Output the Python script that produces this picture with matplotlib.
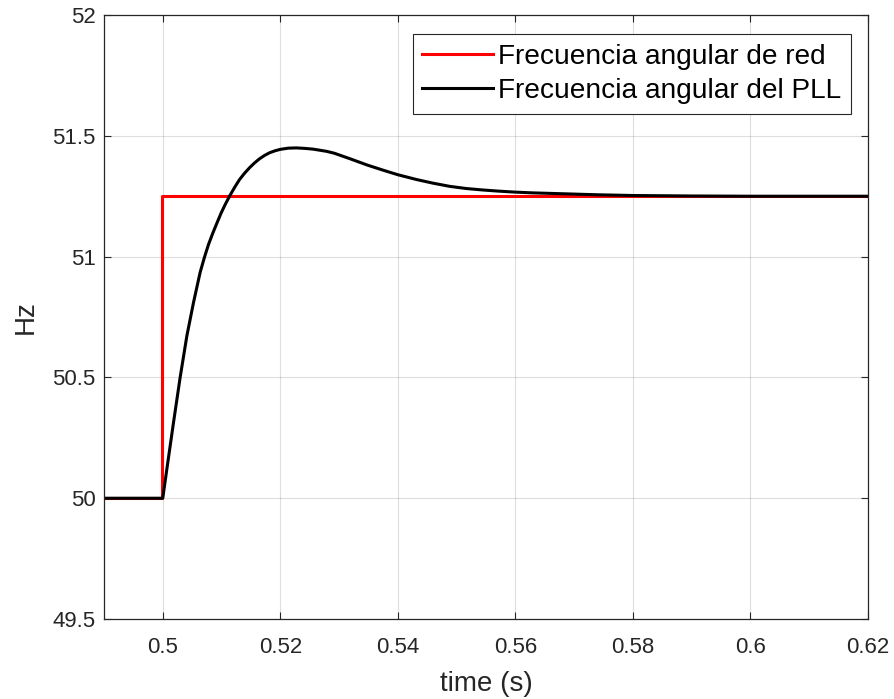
"""Frecuencia angular de red vs. PLL: respuesta a un escalón de 50 a 51.25 Hz."""

import matplotlib

matplotlib.use("Agg")
import matplotlib.pyplot as plt

# escalón de la red
t_red = [0.49, 0.4998, 0.62]
f_red = [50.0, 51.25, 51.25]

# respuesta del PLL
t_pll = [0.49, 0.5, 0.50068, 0.50182, 0.50295, 0.5041, 0.50523, 0.50636,
         0.5071, 0.50778, 0.50851, 0.50925, 0.50994, 0.51065, 0.51136,
         0.51221, 0.51306, 0.51391, 0.51477, 0.51562, 0.51647, 0.51733,
         0.51818, 0.51909, 0.52, 0.52136, 0.52273, 0.52415, 0.52556,
         0.52784, 0.52919, 0.53199, 0.5348, 0.5376, 0.54, 0.5432, 0.546,
         0.5488, 0.5516, 0.5544, 0.5572, 0.56, 0.5628, 0.5684, 0.574,
         0.58, 0.59, 0.60, 0.62]
f_pll = [50.0, 50.0, 50.118, 50.312, 50.499, 50.672, 50.81, 50.935,
         50.998, 51.05, 51.097, 51.141, 51.181, 51.217, 51.25,
         51.286, 51.319, 51.345, 51.368, 51.388, 51.405, 51.419,
         51.43, 51.438, 51.444, 51.449, 51.45, 51.448, 51.445,
         51.436, 51.428, 51.404, 51.379, 51.357, 51.339, 51.319, 51.304,
         51.291, 51.282, 51.276, 51.271, 51.267, 51.264, 51.26, 51.256,
         51.253, 51.251, 51.25, 51.25]

xticks = [0.5, 0.52, 0.54, 0.56, 0.58, 0.6, 0.62]
xticklabels = ["0.5", "0.52", "0.54", "0.56", "0.58", "0.6", "0.62"]
yticks = [49.5, 50, 50.5, 51, 51.5, 52]
yticklabels = ["49.5", "50", "50.5", "51", "51.5", "52"]

plt.rcParams["font.family"] = ["Liberation Sans", "DejaVu Sans"]
AX_COL = "#262626"

fig = plt.figure(figsize=(8.95, 6.99), dpi=100)
ax = fig.add_axes([0.1162, 0.1144, 0.8536, 0.8641])

ax.plot(t_red, f_red, color="#ff0000", lw=2.2, drawstyle="steps-post",
        label="Frecuencia angular de red")
ax.plot(t_pll, f_pll, color="black", lw=2.2, label="Frecuencia angular del PLL")

ax.set_xlim(0.49, 0.62)
ax.set_ylim(49.5, 52)
ax.set_xticks(xticks)
ax.set_xticklabels(xticklabels)
ax.set_yticks(yticks)
ax.set_yticklabels(yticklabels)

ax.grid(True, color="#000000", alpha=0.13, lw=0.8)
ax.set_axisbelow(True)
ax.tick_params(direction="in", length=5, width=0.8, colors=AX_COL,
               labelsize=16, top=True, right=True)
ax.tick_params(axis="x", pad=13)
ax.tick_params(axis="y", pad=6)
for s in ax.spines.values():
    s.set_color(AX_COL)
    s.set_linewidth(0.9)

ax.set_xlabel("time (s)", fontsize=20, color=AX_COL, labelpad=9)
ax.set_ylabel("Hz", fontsize=20, color=AX_COL, labelpad=10)

leg = ax.legend(loc="upper right", bbox_to_anchor=(0.978, 0.969),
                borderaxespad=0, fontsize=20.2, fancybox=False, framealpha=1,
                edgecolor=AX_COL, handlelength=2.5, handletextpad=0.2,
                borderpad=0.35, labelspacing=0.3)
leg.get_frame().set_linewidth(0.8)

fig.savefig("out.png", dpi=100)
